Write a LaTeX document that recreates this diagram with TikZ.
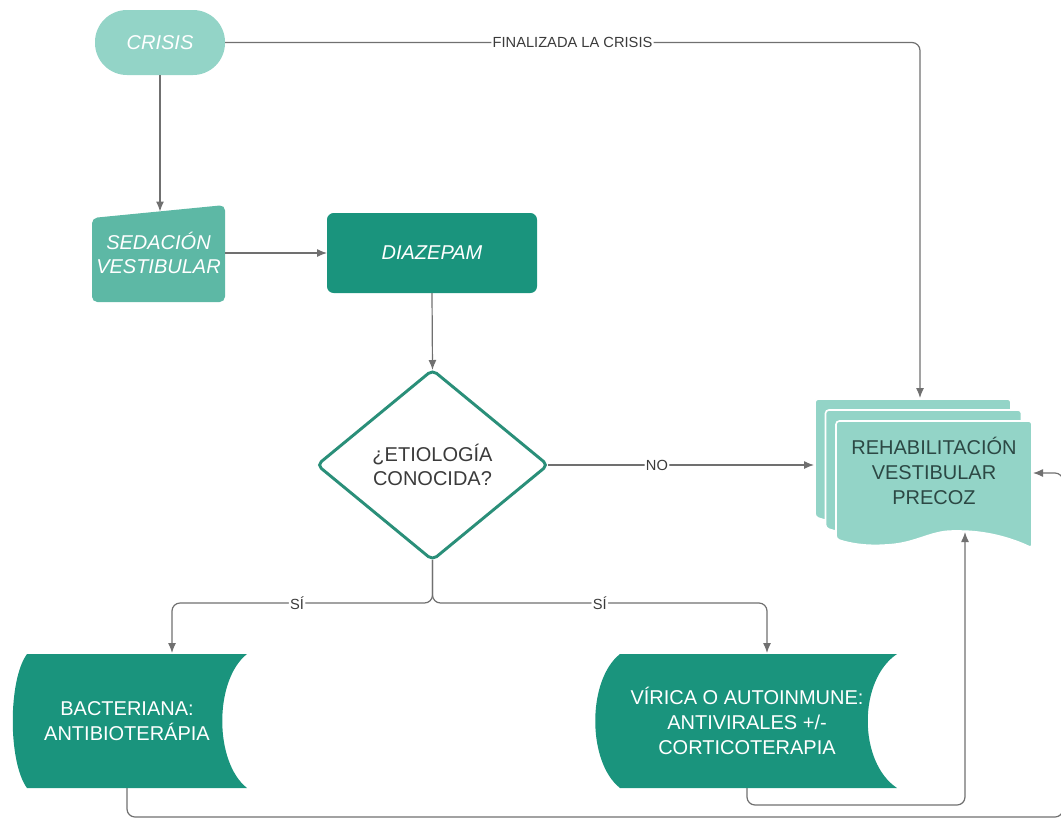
\documentclass[tikz,border=0pt]{standalone}
\usepackage{fontspec}
\setmainfont{Liberation Sans}
\usetikzlibrary{arrows.meta,shapes.geometric}

\definecolor{paleteal}{HTML}{93D4C7}
\definecolor{midteal}{HTML}{5DB8A5}
\definecolor{deepteal}{HTML}{1A947D}
\definecolor{rimteal}{HTML}{2A8F79}
\definecolor{wire}{HTML}{707070}
\definecolor{inktext}{HTML}{3B3B3B}
\definecolor{darkink}{HTML}{2C4844}

\begin{document}
\begin{tikzpicture}[x=0.75pt,y=-0.75pt,
  every node/.style={inner sep=0pt, outer sep=0pt, align=center},
  bigtext/.style={font=\fontsize{15}{18.5}\selectfont},
  bigital/.style={font=\fontsize{15}{18.5}\selectfont\itshape},
  flow/.style={draw=wire, line width=0.9pt, rounded corners=6pt,
    -{Latex[length=7.5pt,width=6pt]}},
  tag/.style={fill=white, inner xsep=1pt, inner ysep=1.5pt,
    font=\fontsize{11}{12}\selectfont, text=inktext},
  page/.style={fill=paleteal, draw=white, line width=1.2pt, rounded corners=2.5pt}]

\useasboundingbox (0,0) rectangle (1061,819);

% manual-input shape behind the sedation text
\fill[midteal, rounded corners=4pt] (92,218) -- (225,205) -- (225,302) -- (92,302) -- cycle;

% stacked documents for the rehabilitation step
\foreach \px/\py in {815/399, 825.5/410, 836/421} {
  \begin{scope}[shift={(\px,\py)}]
    \path[page] (0,118) -- (0,0) -- (196,0) -- (196,127)
      .. controls (175,117) and (150,110) .. (120,110)
      .. controls (95,110) and (80,122) .. (50,124)
      .. controls (30,125) and (15,123) .. (0,118) -- cycle;
  \end{scope}
}

% stored-data shapes for the two treatments
\fill[deepteal] (27,654) -- (247,654) .. controls (214,680) and (214,762) .. (247,788)
  -- (27,788) .. controls (8,762) and (8,680) .. (27,654) -- cycle;
\fill[deepteal] (620,654) -- (897,654) .. controls (858,680) and (858,762) .. (897,788)
  -- (620,788) .. controls (587,762) and (587,680) .. (620,654) -- cycle;

% nodes
\node[bigital, fill=paleteal, text=white, rounded corners=24pt,
  minimum width=97.5pt, minimum height=48.75pt] (crisis) at (160,42.5) {CRISIS};
\node[bigital, text=white, minimum width=99.75pt, minimum height=72.75pt]
  (sed) at (158.5,253) {SEDACIÓN\\VESTIBULAR};
\node[bigital, fill=deepteal, text=white, rounded corners=5pt,
  minimum width=157.5pt, minimum height=60pt] (diaz) at (432,253) {DIAZEPAM};
\node[bigtext, diamond, draw=rimteal, line width=2.2pt, fill=white, rounded corners=4pt,
  minimum width=173pt, minimum height=142.5pt, text=inktext]
  (q) at (432.5,465) {¿ETIOLOGÍA\\CONOCIDA?};
\node[bigtext, text=darkink] (reh) at (934,471) {REHABILITACIÓN\\VESTIBULAR\\PRECOZ};
\node[bigtext, text=white, minimum width=170pt, minimum height=100.5pt]
  (bac) at (127,721) {BACTERIANA:\\ANTIBIOTERÁPIA};
\node[bigtext, text=white, minimum width=200pt, minimum height=100.5pt]
  (vir) at (747,721) {VÍRICA O AUTOINMUNE:\\ANTIVIRALES +/-\\CORTICOTERAPIA};

% connector end points on the drawn outlines
\coordinate (sedN) at (160,211.5);
\coordinate (rehN) at (920,398);
\coordinate (rehW) at (814,465);
\coordinate (rehS) at (965,532);
\coordinate (rehE) at (1033,473);
\coordinate (bacN) at (172,653);
\coordinate (virN) at (767,653);
\coordinate (loopSE) at (1063,817);

% connectors
\draw[flow] (crisis.south) -- (sedN);
\draw[flow] (crisis.east) -| node[tag, pos=0.25] {FINALIZADA LA CRISIS} (rehN);
\draw[flow] (sed.east) -- (diaz.west);
\draw[flow] (diaz.south) -- (q.north);
\draw[flow] (q.east) -- node[tag, pos=0.41] {NO} (rehW);
\draw[flow] (q.south) -- ++(0,43) -| node[tag, pos=0.26] {SÍ} (bacN);
\draw[flow] (q.south) -- ++(0,43) -| node[tag, pos=0.25] {SÍ} (virN);
\draw[flow] (vir.south) -- ++(0,17) -| (rehS);
\draw[flow] (bac.south) |- (loopSE) |- (rehE);

\end{tikzpicture}
\end{document}
